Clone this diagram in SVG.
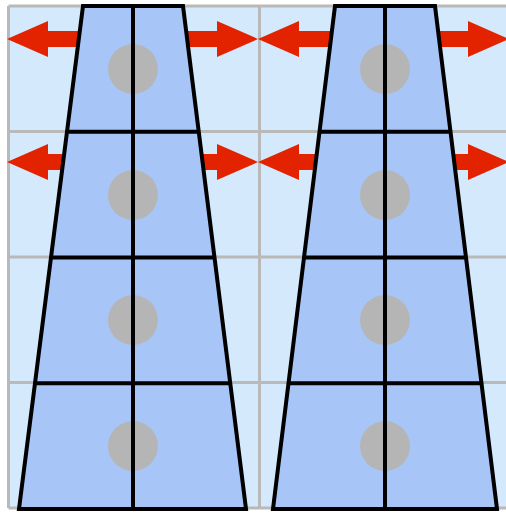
<svg xmlns="http://www.w3.org/2000/svg" width="506" height="513" viewBox="0 0 506 513">
  <defs>
    <style>
      .cell { fill: #d5e9fc; }
      .grid { stroke: #b9b9b9; stroke-width: 3; fill: none; }
      .arrow { fill: #e32200; }
      .trap { fill: #a7c6f7; stroke: none; }
      .dot { fill: #b5b5b5; }
      .edge { stroke: #000; stroke-width: 4; fill: none; stroke-linejoin: miter; }
    </style>
    <path id="dbl" class="arrow" d="M0,0 L41,-18 L41,-8 L210,-8 L210,-18 L251,0 L210,18 L210,8 L41,8 L41,18 Z"/>
  </defs>
  <rect width="506" height="513" fill="#ffffff"/>
  <g id="grid">
    <rect class="cell" x="8.5" y="6" width="502" height="502"/>
    <path class="grid" d="M8.5,6 V508 M134,6 V508 M259.5,6 V508 M385,6 V508 M510.5,6 V508 M8.5,6 H512 M8.5,131.5 H512 M8.5,257 H512 M8.5,382.5 H512 M8.5,508 H512"/>
  </g>
  <g id="connectors">
    <use href="#dbl" x="7" y="39"/>
    <use href="#dbl" x="7" y="162"/>
    <use href="#dbl" x="258" y="39"/>
    <use href="#dbl" x="258" y="162"/>
  </g>
  <g id="column-1">
    <path class="trap" d="M83,6 L183,6 L246,509 L19,509 Z"/>
    <circle class="dot" cx="133" cy="69" r="25"/>
    <circle class="dot" cx="133" cy="195" r="25"/>
    <circle class="dot" cx="133" cy="320" r="25"/>
    <circle class="dot" cx="133" cy="446" r="25"/>
    <path class="edge" d="M83,6 L183,6 L246,509 L19,509 Z M133,6 V509 M67.3,131.75 H198.7 M51.6,257.5 H214.4 M35.8,383.25 H230.2"/>
  </g>
  <g id="column-2">
    <path class="trap" d="M335,6 L435,6 L497,509 L273,509 Z"/>
    <circle class="dot" cx="385" cy="69" r="25"/>
    <circle class="dot" cx="385" cy="195" r="25"/>
    <circle class="dot" cx="385" cy="320" r="25"/>
    <circle class="dot" cx="385" cy="446" r="25"/>
    <path class="edge" d="M335,6 L435,6 L497,509 L273,509 Z M385,6 V509 M319.6,131.75 H450.5 M304.2,257.5 H466 M288.6,383.25 H481.5"/>
  </g>
</svg>
